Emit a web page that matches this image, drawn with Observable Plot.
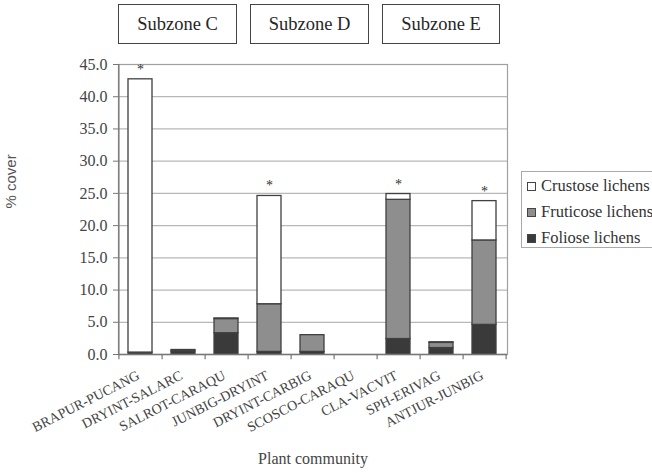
<!DOCTYPE html>
<html>
<head>
<meta charset="utf-8">
<script src="https://cdn.jsdelivr.net/npm/d3@7"></script>
<script src="https://cdn.jsdelivr.net/npm/@observablehq/plot@0.6"></script>
<style>
  body { margin: 0; background: #fff; overflow: hidden; }
  #wrap { position: relative; width: 652px; height: 473px; overflow: hidden; font-family: "Liberation Serif", "Times New Roman", serif; color: #3a3a3a; }
  #wrap svg { position: absolute; left: 0; top: 0; }
  .zone { position: absolute; top: 4px; height: 40px; border: 1.5px solid #444; box-sizing: border-box; display: flex; align-items: center; justify-content: center; font-size: 18.5px; color: #262626; background: #fff; }
  #legend { position: absolute; left: 521px; top: 171px; width: 150px; height: 77px; border: 1px solid #aaa; box-sizing: border-box; background: #fff; font-size: 16.5px; color: #333; }
  .li { position: absolute; left: 5px; display: flex; align-items: center; white-space: nowrap; line-height: 18px; }
  .sw { width: 9px; height: 9px; border: 1px solid #444; box-sizing: border-box; margin-right: 5px; }
</style>
</head>
<body>
<div id="wrap"></div>
<script>
// ---- data ----
const categories = ["BRAPUR-PUCANG","DRYINT-SALARC","SALROT-CARAQU","JUNBIG-DRYINT","DRYINT-CARBIG","SCOSCO-CARAQU","CLA-VACVIT","SPH-ERIVAG","ANTJUR-JUNBIG"];
const foliose   = [0.3, 0.5, 3.3, 0.4, 0.4, 0, 2.4, 1.0, 4.6];
const fruticose = [0,   0.2, 2.2, 7.4, 2.6, 0, 21.6, 0.8, 13.1];
const crustose  = [42.4, 0,  0.1, 16.8, 0,  0, 0.9, 0.1, 6.1];
const significant = [true, false, false, true, false, false, true, false, true];
const seriesNames = ["Foliose lichens", "Fruticose lichens", "Crustose lichens"];
const seriesColors = ["#3a3a3a", "#8e8e8e", "#ffffff"];
const legendOrder = ["Crustose lichens", "Fruticose lichens", "Foliose lichens"];
const zones = ["Subzone C", "Subzone D", "Subzone E"];
const yTicks = [0,5,10,15,20,25,30,35,40,45];

const rows = [];
categories.forEach((c, i) => {
  rows.push({cat: c, series: seriesNames[0], v: foliose[i]});
  rows.push({cat: c, series: seriesNames[1], v: fruticose[i]});
  rows.push({cat: c, series: seriesNames[2], v: crustose[i]});
});
const totals = categories.map((c, i) => ({cat: c, total: foliose[i] + fruticose[i] + crustose[i], sig: significant[i]}));

const W = 652, H = 473, ML = 118, MR = 145, MT = 64, MB = 119;
const step = (W - ML - MR) / categories.length;
const FONT = "'Liberation Serif', 'Times New Roman', serif";

const plot = Plot.plot({
  width: W, height: H,
  marginLeft: ML, marginRight: MR, marginTop: MT, marginBottom: MB,
  style: {fontFamily: FONT, fontSize: "14px", color: "#444", background: "transparent"},
  x: {domain: categories, paddingInner: 0.44, paddingOuter: 0.22, label: null},
  y: {domain: [0, 45], label: null},
  color: {domain: seriesNames, range: seriesColors},
  marks: [
    Plot.gridY(yTicks, {stroke: "#b8b8b8", strokeOpacity: 1, strokeWidth: 1.2}),
    Plot.frame({stroke: "#a0a0a0", strokeWidth: 1.2}),
    Plot.barY(rows, {x: "cat", y: "v", fill: "series", stroke: "#404040", strokeWidth: 1.3}),
    Plot.ruleY([0], {stroke: "#777", strokeWidth: 1.3}),
    Plot.ruleX([categories[0]], {x: d => d, dx: -step / 2, y1: 0, y2: 45, stroke: "#777", strokeWidth: 1.3}),
    Plot.ruleX(categories, {x: d => d, dx: step / 2, y1: 0, y2: -0.8, stroke: "#777", strokeWidth: 1.2}),
    Plot.ruleX([categories[0]], {x: d => d, dx: -step / 2, y1: 0, y2: -0.8, stroke: "#777", strokeWidth: 1.2}),
    Plot.axisY(yTicks, {tickFormat: d => d.toFixed(1), tickSize: 5, tickPadding: 6, stroke: "#777", fontSize: 16, fill: "#444", fontFamily: FONT}),
    Plot.axisX({tickSize: 0, tickRotate: -27, tickPadding: 13, fontSize: 14, fill: "#444", dx: -2, dy: 7, fontFamily: FONT}),
    Plot.text(totals.filter(d => d.sig), {x: "cat", y: "total", text: d => "*", dy: -10, fontSize: 14, fill: "#333", fontFamily: FONT}),
    Plot.text(["% cover"], {frameAnchor: "left", dx: -107, rotate: -90, fontSize: 15, fill: "#555", fontFamily: "'Liberation Sans', sans-serif", dy: -1}),
    Plot.text(["Plant community"], {frameAnchor: "bottom", dy: 109, fontSize: 16, fill: "#444", fontFamily: FONT})
  ]
});

const wrap = document.getElementById("wrap");
wrap.appendChild(plot);

// subzone boxes, positioned via the x scale
const xs = plot.scale("x");
const insetsL = [0, 3, 6], insetsR = [11, 8, 6];
zones.forEach((z, k) => {
  const first = categories[k * 3], last = categories[k * 3 + 2];
  const bw = xs.bandwidth;
  const x0 = xs.apply(first) + bw / 2 - step / 2 + insetsL[k];
  const x1 = xs.apply(last) + bw / 2 + step / 2 - insetsR[k];
  const d = document.createElement("div");
  d.className = "zone";
  d.style.left = x0 + "px";
  d.style.width = (x1 - x0) + "px";
  d.textContent = z;
  wrap.appendChild(d);
});

// legend
const lg = document.createElement("div");
lg.id = "legend";
legendOrder.forEach((name, i) => {
  const it = document.createElement("div");
  it.className = "li";
  it.style.top = (5 + i * 26) + "px";
  const sw = document.createElement("span");
  sw.className = "sw";
  sw.style.background = seriesColors[seriesNames.indexOf(name)];
  it.appendChild(sw);
  const t = document.createElement("span");
  t.textContent = name;
  it.appendChild(t);
  lg.appendChild(it);
});
wrap.appendChild(lg);
</script>
</body>
</html>
